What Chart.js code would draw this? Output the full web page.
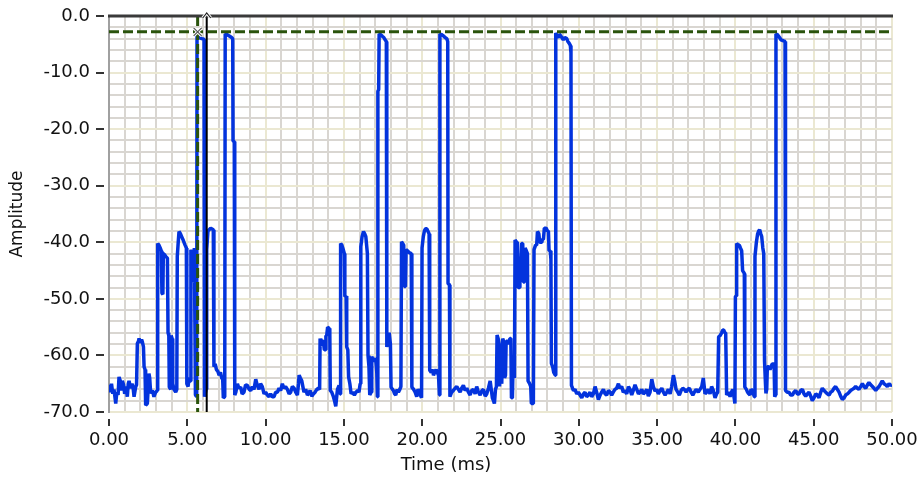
<!DOCTYPE html>
<html><head><meta charset="utf-8">
<script src="https://cdn.jsdelivr.net/npm/chart.js@4"></script>
<style>html,body{margin:0;padding:0;background:#fff;}#wrap{width:917px;height:480px;}</style>
</head><body><div id="wrap"><canvas id="c" width="917" height="480"></canvas></div>
<script>
// ---- data: [time (ms), amplitude] ----
const seg1 = [[0,-65.2],[0.08,-66.5],[0.16,-65.0],[0.24,-66.8],[0.32,-66.0],[0.43,-68.5],[0.5,-66.5],[0.58,-67.0],[0.64,-63.8],[0.72,-64.5],[0.8,-66.2],[0.85,-64.5],[0.93,-65.2],[1.0,-66.8],[1.08,-65.5],[1.17,-67.3],[1.23,-65.0],[1.28,-64.5],[1.38,-65.8],[1.49,-65.0],[1.55,-66.0],[1.6,-67.3],[1.7,-65.6],[1.76,-65.2],[1.81,-57.9],[1.88,-57.5],[1.92,-57.0],[2.0,-57.8],[2.08,-57.2],[2.13,-57.6],[2.2,-58.5],[2.24,-62.0],[2.3,-62.5],[2.34,-68.8],[2.45,-68.5],[2.55,-63.2],[2.6,-64.0],[2.66,-66.7],[2.77,-66.2],[2.87,-67.3],[2.98,-66.5],[3.09,-66.2],[3.11,-40.2],[3.19,-40.5],[3.27,-41.0],[3.34,-41.5],[3.38,-49.0],[3.44,-49.2],[3.47,-42.0],[3.55,-42.2],[3.62,-42.5],[3.73,-42.8],[3.77,-56.0],[3.82,-56.5],[3.85,-65.6],[3.94,-66.0],[3.97,-56.5],[4.03,-57.0],[4.07,-65.0],[4.15,-66.0],[4.26,-66.5],[4.33,-66.0],[4.36,-42.5],[4.42,-40.0],[4.47,-38.1],[4.56,-38.5],[4.64,-39.0],[4.72,-39.5],[4.79,-40.0],[4.86,-40.5],[4.94,-41.0],[4.97,-65.0],[5.05,-65.5],[5.11,-64.0],[5.2,-64.5],[5.23,-41.3],[5.3,-42.0],[5.35,-47.0],[5.41,-46.5],[5.45,-41.0],[5.49,-41.0],[5.52,-67.0],[5.6,-67.3],[5.62,-3.5],[5.75,-3.8],[5.92,-4.0],[6.07,-4.1],[6.1,-67.3],[6.2,-66.0],[6.24,-41.3],[6.32,-38.0],[6.49,-37.5],[6.66,-37.8],[6.7,-62.0],[6.78,-61.5],[6.86,-62.5],[6.95,-62.8],[7.03,-63.5],[7.12,-63.0],[7.2,-64.0],[7.26,-64.2],[7.3,-67.5],[7.39,-67.3],[7.42,-3.2],[7.55,-3.3],[7.66,-3.5],[7.83,-3.8],[7.9,-4.0],[7.92,-22.1],[8.0,-22.2],[8.03,-67.0]];
const seg2 = [[8.1,-66.5],[8.2,-65.0],[8.3,-65.8],[8.41,-65.6],[8.5,-66.8],[8.62,-66.5],[8.72,-65.2],[8.84,-65.3],[8.95,-66.0],[9.05,-66.2],[9.15,-65.5],[9.26,-66.0],[9.37,-64.2],[9.47,-65.3],[9.58,-66.0],[9.68,-65.0],[9.79,-65.5],[9.9,-66.8],[10.0,-66.5],[10.11,-67.0],[10.22,-67.3],[10.32,-66.8],[10.43,-67.3],[10.54,-67.3],[10.64,-66.5],[10.75,-66.5],[10.86,-65.8],[10.96,-66.2],[11.07,-65.0],[11.17,-65.8],[11.28,-65.5],[11.39,-66.0],[11.5,-66.8],[11.6,-66.5],[11.71,-65.5],[11.82,-65.8],[11.92,-66.5],[12.03,-67.0],[12.1,-65.0],[12.14,-63.5],[12.22,-64.0],[12.31,-64.5],[12.38,-65.5],[12.45,-66.5],[12.56,-66.0],[12.67,-67.0],[12.73,-66.8],[12.84,-66.2],[12.95,-67.2],[13.05,-66.8],[13.16,-66.5],[13.27,-66.0],[13.37,-65.8],[13.45,-66.0]];
const seg3 = [[13.48,-57.0],[13.53,-58.0],[13.58,-58.2],[13.64,-57.5],[13.69,-57.5],[13.75,-59.0],[13.8,-59.0],[13.85,-56.5],[13.9,-56.5],[13.96,-55.0],[14.05,-55.2],[14.1,-56.0],[14.13,-66.2],[14.22,-66.5],[14.33,-67.3],[14.4,-68.0],[14.48,-69.0],[14.55,-67.0],[14.59,-66.0],[14.69,-65.3],[14.76,-66.8],[14.79,-40.2],[14.87,-40.5],[14.93,-41.0],[15.03,-42.0],[15.06,-49.6],[15.14,-49.5],[15.18,-58.5],[15.25,-59.0],[15.3,-63.8],[15.38,-65.0],[15.46,-66.8],[15.56,-66.5],[15.67,-67.0],[15.77,-66.5],[15.88,-66.2],[15.96,-66.5],[16.04,-65.0],[16.08,-40.8],[16.16,-39.0],[16.25,-38.1],[16.33,-38.5],[16.4,-39.0],[16.5,-42.0],[16.54,-60.0],[16.6,-62.0],[16.65,-67.0],[16.74,-66.5],[16.78,-60.2],[16.86,-60.8],[16.93,-61.0],[17.03,-60.5],[17.1,-63.0],[17.14,-67.3],[17.17,-13.3],[17.22,-13.0],[17.25,-3.2],[17.35,-3.3],[17.46,-3.6],[17.55,-3.8],[17.63,-4.2],[17.71,-4.5],[17.74,-58.5],[17.82,-57.5],[17.89,-56.0],[17.97,-58.0],[18.01,-65.6],[18.1,-66.0],[18.16,-66.2],[18.24,-66.8],[18.31,-67.0],[18.4,-66.0],[18.48,-66.5],[18.57,-66.0],[18.64,-65.5],[18.68,-39.9],[18.75,-40.2],[18.82,-40.5],[18.86,-47.8],[18.93,-47.8],[18.97,-41.3],[19.06,-41.5],[19.16,-41.8],[19.3,-42.0],[19.34,-65.6],[19.45,-66.0],[19.55,-66.5],[19.65,-67.3],[19.73,-66.0],[19.8,-66.3],[19.88,-67.0],[19.96,-67.5],[19.99,-41.0],[20.07,-39.0],[20.14,-38.0],[20.22,-37.6],[20.29,-37.6],[20.44,-38.5],[20.48,-62.6],[20.58,-63.0],[20.66,-62.5],[20.72,-63.5],[20.8,-63.0],[20.89,-62.5],[20.96,-63.0],[21.04,-63.5],[21.1,-67.0],[21.13,-3.2],[21.25,-3.3],[21.35,-3.5],[21.46,-3.8],[21.57,-4.0],[21.63,-4.5],[21.65,-47.3],[21.74,-47.5],[21.77,-67.3]];
const seg4 = [[21.88,-66.5],[21.99,-66.2],[22.1,-65.8],[22.21,-65.5],[22.31,-66.0],[22.42,-66.5],[22.52,-65.8],[22.63,-65.3],[22.74,-66.2],[22.85,-65.8],[22.95,-66.5],[23.06,-67.0],[23.16,-66.2],[23.27,-66.0],[23.38,-66.8],[23.48,-65.5],[23.59,-66.5],[23.7,-67.0],[23.8,-66.3],[23.91,-66.0],[24.02,-67.2],[24.12,-66.8],[24.23,-65.8],[24.34,-64.5],[24.41,-66.0],[24.48,-67.5],[24.55,-68.0],[24.61,-68.5],[24.68,-66.0],[24.74,-65.5],[24.78,-56.4],[24.85,-57.0],[24.91,-58.0],[24.94,-65.5],[24.97,-62.0],[25.03,-64.0],[25.08,-65.0],[25.14,-57.0],[25.2,-57.5],[25.26,-64.0],[25.32,-63.5],[25.36,-57.5],[25.46,-57.5],[25.54,-58.0],[25.6,-57.0],[25.66,-57.0],[25.7,-67.5],[25.76,-67.5],[25.8,-62.0],[25.86,-62.5],[25.89,-64.0],[25.93,-39.6],[26.03,-40.0],[26.08,-40.0],[26.12,-48.0],[26.2,-48.0],[26.24,-44.0],[26.3,-44.0],[26.35,-40.2],[26.42,-40.2],[26.46,-47.0],[26.53,-47.0],[26.57,-41.0],[26.65,-41.5],[26.72,-42.0],[26.76,-64.5],[26.86,-65.0],[26.93,-65.5],[26.97,-68.5],[27.1,-68.5],[27.14,-41.3],[27.24,-40.5],[27.31,-40.5],[27.36,-38.1],[27.45,-38.5],[27.5,-40.0],[27.6,-40.0],[27.65,-39.5],[27.74,-39.5],[27.8,-37.5],[27.91,-37.5],[28.0,-38.0],[28.06,-38.0],[28.1,-41.5],[28.18,-41.5],[28.22,-43.0],[28.25,-61.4],[28.33,-62.0],[28.4,-63.0],[28.5,-63.5],[28.53,-3.0],[28.6,-3.5],[28.7,-3.8],[28.76,-3.2],[28.84,-3.5],[28.92,-3.8],[29.01,-4.2],[29.1,-3.8],[29.23,-4.0],[29.3,-4.5],[29.38,-4.8],[29.46,-5.2],[29.5,-6.5],[29.53,-65.3]];
const seg5 = [[29.6,-65.8],[29.66,-66.2],[29.76,-66.0],[29.87,-66.8],[29.97,-66.5],[30.08,-67.0],[30.19,-67.5],[30.3,-66.8],[30.4,-66.5],[30.5,-67.3],[30.61,-67.0],[30.72,-66.5],[30.82,-67.3],[30.93,-66.8],[31.04,-65.5],[31.14,-66.5],[31.25,-67.8],[31.36,-67.0],[31.46,-66.5],[31.57,-66.0],[31.68,-66.8],[31.78,-67.0],[31.89,-66.2],[32.0,-66.5],[32.1,-67.0],[32.2,-66.5],[32.31,-66.0],[32.42,-65.8],[32.53,-65.0],[32.63,-65.8],[32.74,-65.5],[32.84,-66.5],[32.95,-66.2],[33.06,-66.8],[33.17,-65.5],[33.27,-66.0],[33.38,-67.0],[33.48,-66.2],[33.59,-65.2],[33.7,-66.0],[33.81,-66.8],[33.91,-66.5],[34.02,-66.0],[34.12,-66.8],[34.23,-66.5],[34.34,-66.0],[34.44,-67.2],[34.55,-66.5],[34.66,-64.2],[34.76,-65.5],[34.87,-66.3],[34.97,-66.0],[35.08,-66.8],[35.19,-66.2],[35.3,-65.8],[35.4,-66.5],[35.51,-67.0],[35.62,-66.5],[35.72,-66.0],[35.83,-66.8],[35.93,-65.5],[36.04,-63.5],[36.12,-64.5],[36.21,-66.0],[36.32,-66.5],[36.42,-67.0],[36.53,-66.2],[36.64,-65.8],[36.74,-66.0],[36.85,-66.5],[36.96,-66.0],[37.06,-65.8],[37.17,-66.5],[37.28,-67.0],[37.38,-66.5],[37.49,-66.0],[37.63,-66.5],[37.74,-66.0],[37.85,-65.5],[37.95,-64.0],[38.06,-66.8],[38.16,-66.5],[38.27,-66.0],[38.38,-66.8],[38.48,-65.5],[38.59,-66.2],[38.7,-67.5],[38.8,-66.8],[38.87,-66.5]];
const seg6 = [[38.93,-56.7],[39.02,-56.5],[39.12,-56.0],[39.2,-55.5],[39.25,-55.5],[39.33,-56.0],[39.38,-56.0],[39.44,-67.0],[39.55,-66.5],[39.66,-67.3],[39.75,-66.5],[39.83,-66.0],[39.92,-67.5],[39.97,-68.5],[40.0,-49.6],[40.05,-49.5],[40.08,-40.2],[40.17,-40.5],[40.25,-40.5],[40.32,-41.0],[40.4,-41.5],[40.46,-45.0],[40.57,-45.5],[40.6,-65.6],[40.7,-66.0],[40.78,-66.5],[40.86,-66.8],[40.93,-67.0],[41.0,-66.0],[41.08,-66.2],[41.15,-66.8],[41.21,-67.3],[41.25,-42.5],[41.34,-40.0],[41.42,-38.5],[41.49,-38.0],[41.55,-37.8],[41.62,-38.5],[41.68,-39.0],[41.75,-41.0],[41.81,-42.0],[41.86,-61.0],[41.92,-65.0],[41.95,-66.7],[42.0,-66.0],[42.04,-62.0],[42.12,-62.0],[42.21,-62.5],[42.3,-61.8],[42.36,-61.5],[42.47,-61.5],[42.51,-67.3],[42.56,-67.0],[42.59,-3.2],[42.68,-3.3],[42.74,-3.5],[42.82,-3.8],[42.91,-4.2],[43.0,-4.3],[43.08,-4.4],[43.17,-4.5],[43.2,-66.2]];
const seg7 = [[43.31,-66.5],[43.42,-66.5],[43.53,-67.0],[43.64,-67.0],[43.74,-66.5],[43.85,-66.2],[43.96,-66.8],[44.06,-66.8],[44.17,-66.2],[44.28,-66.0],[44.38,-66.8],[44.49,-67.2],[44.6,-66.8],[44.7,-66.5],[44.81,-67.2],[44.91,-68.0],[45.02,-67.5],[45.13,-66.8],[45.23,-67.0],[45.34,-67.5],[45.45,-66.5],[45.55,-65.8],[45.66,-66.2],[45.77,-66.5],[45.87,-66.8],[45.98,-67.0],[46.09,-66.5],[46.19,-66.3],[46.3,-65.8],[46.4,-65.5],[46.51,-66.0],[46.62,-66.5],[46.72,-67.2],[46.83,-67.8],[46.94,-67.5],[47.04,-67.0],[47.15,-66.8],[47.26,-66.5],[47.36,-66.2],[47.47,-66.0],[47.58,-65.8],[47.68,-65.5],[47.79,-65.8],[47.89,-66.0],[48.0,-65.5],[48.11,-65.0],[48.21,-65.5],[48.32,-65.8],[48.43,-65.2],[48.53,-64.8],[48.64,-65.2],[48.75,-65.5],[48.85,-65.8],[48.96,-66.2],[49.07,-65.8],[49.17,-65.5],[49.28,-65.0],[49.38,-64.5],[49.49,-65.0],[49.6,-65.2],[49.7,-65.5],[49.81,-65.0],[49.91,-65.3],[50.0,-65.2]];

const cursorTimes = [5.66, 6.24];   // ms: dashed green cursor, solid black cursor
const cursorLevel = [-2.8];          // amplitude of horizontal dashed cursor
const xRange = [0, 50];
const yRange = [-70, 0];
const xMajorStep = 5, yMajorStep = 10;
const xLabel = 'Time (ms)';
const yLabel = 'Amplitude';

const trace = [].concat(seg1, seg2, seg3, seg4, seg5, seg6, seg7).map(p => ({x: p[0], y: p[1]}));

const GREEN = '#2a530c';
const FONT = 'DejaVu Sans';

const decor = {
  id: 'decor',
  afterDraw(chart) {
    const {ctx, chartArea: a, scales: {x, y}} = chart;
    ctx.save();
    ctx.strokeStyle = '#3a3a3a'; ctx.lineWidth = 3;
    ctx.beginPath(); ctx.moveTo(a.left - 1, a.top); ctx.lineTo(a.right + 1, a.top); ctx.stroke();
    ctx.strokeStyle = '#333'; ctx.lineWidth = 2;
    for (let v = yRange[0]; v <= yRange[1]; v += yMajorStep) {
      const py = Math.round(y.getPixelForValue(v));
      ctx.beginPath(); ctx.moveTo(a.left - 13, py); ctx.lineTo(a.left - 5, py); ctx.stroke();
    }
    for (let v = xRange[0]; v <= xRange[1]; v += xMajorStep) {
      const px = Math.round(x.getPixelForValue(v));
      ctx.beginPath(); ctx.moveTo(px, a.bottom + 7); ctx.lineTo(px, a.bottom + 14); ctx.stroke();
    }
    const cx = x.getPixelForValue(cursorTimes[0]), cy = y.getPixelForValue(cursorLevel[0]);
    const s = 4;
    [['#ffffff', 3], ['#555555', 1.2]].forEach(([c, w]) => {
      ctx.strokeStyle = c; ctx.lineWidth = w;
      ctx.beginPath();
      ctx.moveTo(cx - s, cy - s); ctx.lineTo(cx + s, cy + s);
      ctx.moveTo(cx + s, cy - s); ctx.lineTo(cx - s, cy + s);
      ctx.stroke();
    });
    const bx = x.getPixelForValue(cursorTimes[1]), by = a.top;
    [['#ffffff', 3], ['#222222', 1.2]].forEach(([c, w]) => {
      ctx.strokeStyle = c; ctx.lineWidth = w;
      ctx.beginPath();
      ctx.moveTo(bx - 4, by + 2); ctx.lineTo(bx, by - 3); ctx.lineTo(bx + 4, by + 2);
      ctx.stroke();
    });
    ctx.restore();
  }
};

new Chart(document.getElementById('c'), {
  type: 'line',
  data: {
    datasets: [
      {data: [{x: xRange[0], y: cursorLevel[0]}, {x: xRange[1], y: cursorLevel[0]}], borderColor: GREEN, borderWidth: 3, borderDash: [10, 4], pointRadius: 0, order: 1},
      {data: [{x: cursorTimes[0], y: yRange[1]}, {x: cursorTimes[0], y: yRange[0]}], borderColor: GREEN, borderWidth: 3, borderDash: [10, 4], pointRadius: 0, order: 2},
      {data: [{x: cursorTimes[1], y: yRange[1]}, {x: cursorTimes[1], y: yRange[0]}], borderColor: '#000000', borderWidth: 2, pointRadius: 0, order: 3},
      {data: trace, borderColor: '#0333dd', borderWidth: 3.5, pointRadius: 0, tension: 0, order: 10, borderJoinStyle: 'bevel'}
    ]
  },
  options: {
    responsive: false,
    animation: false,
    devicePixelRatio: 1,
    layout: {padding: {left: 0, right: 25, top: 16, bottom: 0}},
    plugins: {
      legend: {display: false},
      tooltip: {enabled: false},
      title: {display: true, position: 'bottom', text: xLabel, color: '#111', font: {family: FONT, size: 18, weight: 'normal'}, padding: {top: 0, bottom: 4}}
    },
    scales: {
      x: {
        type: 'linear', min: xRange[0], max: xRange[1],
        afterFit: s => { s.height = 42.4; s.paddingLeft = 0; s.paddingRight = 0; },
        border: {display: false},
        grid: {drawTicks: false, lineWidth: 2, color: c => (c.tick && c.tick.value % xMajorStep === 0) ? '#ebe8d2' : '#d9d6d1'},
        ticks: {stepSize: 1, autoSkip: false, maxRotation: 0, padding: 18, color: '#111', font: {family: FONT, size: 18},
          callback: v => (v % xMajorStep === 0) ? v.toFixed(2) : ''}
      },
      y: {
        type: 'linear', min: yRange[0], max: yRange[1],
        afterFit: s => { s.width = 109; s.paddingTop = 0; s.paddingBottom = 0; },
        border: {display: true, color: '#a0a0a0', width: 2},
        grid: {drawTicks: false, lineWidth: 2, color: c => (c.tick && c.tick.value % yMajorStep === 0) ? '#ebe8d2' : '#d9d6d1'},
        ticks: {stepSize: 2, autoSkip: false, padding: 19, color: '#111', font: {family: FONT, size: 18},
          callback: v => (v % yMajorStep === 0) ? v.toFixed(1) : ''},
        title: {display: true, text: yLabel, color: '#111', font: {family: FONT, size: 17}, padding: {top: 7, bottom: 0}}
      }
    }
  },
  plugins: [decor]
});
</script></body></html>
